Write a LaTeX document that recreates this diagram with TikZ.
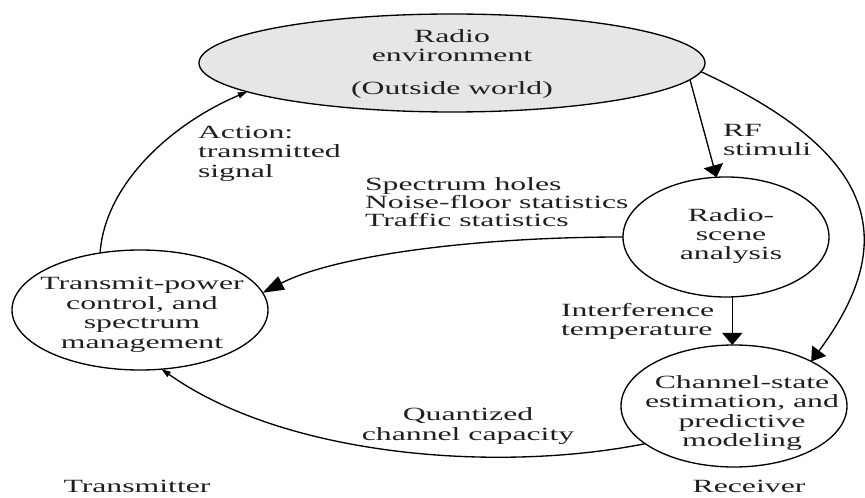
\documentclass[tikz,border=0pt]{standalone}
\usepackage{fontspec}
\setmainfont{Liberation Serif}[FakeStretch=1.7]
\usetikzlibrary{shapes.geometric,arrows.meta}
\definecolor{envgray}{RGB}{230,230,230}
\begin{document}
\begin{tikzpicture}[x=0.75pt,y=-0.75pt,
  every node/.style={inner sep=0pt, outer sep=0pt},
  bub/.style={draw, ellipse, line width=1pt},
  lbl/.style={font=\fontsize{14}{14.6}\selectfont, text=black!88},
  conn/.style={line width=1pt},
  bigv/.style={-{Triangle[length=9pt,width=15pt]}},
  bigd/.style={-{Triangle[length=10pt,width=13pt]}},
  bigh/.style={-{Triangle[length=16pt,width=11pt]}},
  smalltip/.style={-{Triangle[length=7pt,width=4.5pt]}}
]
\path[use as bounding box] (0,0) rectangle (865,498);

% ellipses
\node[bub, fill=envgray, minimum width=379.5pt, minimum height=73.5pt] (env) at (452,63) {};
\node[lbl, align=center] (envt) at (452,64) {Radio\\environment\\[10pt](Outside world)};

\node[bub, minimum width=154.5pt, minimum height=90pt] (rsa) at (726,237) {};
\node[lbl, align=center, font=\fontsize{14}{14}\selectfont] (rsat) at (731,236) {Radio-\\scene\\analysis};

\node[bub, minimum width=192pt, minimum height=90pt] (tpc) at (140,310) {};
\node[lbl, align=center] (tpct) at (142,315) {Transmit-power\\control, and\\spectrum\\management};

\node[bub, minimum width=169.5pt, minimum height=91.5pt] (cse) at (734,406) {};
\node[lbl, align=center] (cset) at (742,413) {Channel-state\\estimation, and\\predictive\\modeling};

% labels
\node[lbl, align=left, anchor=north west] (act) at (198,126) {Action:\\transmitted\\signal};
\node[lbl, align=left, anchor=north west] (rf) at (723,124) {RF\\stimuli};
\node[lbl, align=left, anchor=north west, font=\fontsize{14}{13.5}\selectfont] (spec) at (365,178) {Spectrum holes\\Noise-floor statistics\\Traffic statistics};
\node[lbl, align=left, anchor=north west] (intf) at (561,303) {Interference\\temperature};
\node[lbl, align=center, anchor=north] (qcc) at (468,408) {Quantized\\channel capacity};
\node[lbl, anchor=north] (tx) at (137,480) {Transmitter};
\node[lbl, anchor=north] (rx) at (749,480) {Receiver};

% connectors
\draw[conn, smalltip] (tpc.125) .. controls (105,183) and (173,123) .. (env.188);
\draw[conn, bigv] (env.-4) -- (rsa.99);
\draw[conn, bigd] (env.-2) .. controls (870,150) and (905,235) .. (cse.30);
\draw[conn, bigh] (rsa.west) .. controls (472,237) and (334,256) .. (tpc.8);
\draw[conn, bigv] (rsa.-84) -- (rsa.-84 |- cse.north);
\draw[conn, smalltip] (cse.203) .. controls (498,473) and (286,457) .. (tpc.-70);
\end{tikzpicture}
\end{document}
